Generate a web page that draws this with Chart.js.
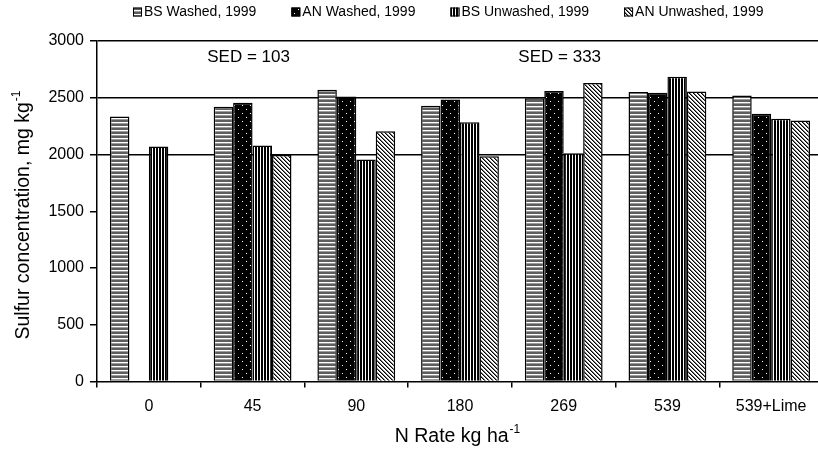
<!DOCTYPE html>
<html><head><meta charset="utf-8">
<script src="https://cdn.jsdelivr.net/npm/chart.js@4.4.0/dist/chart.umd.min.js"></script>
<style>
html,body{margin:0;padding:0;overflow:hidden;background:#fff;width:818px;height:451px}
#wrap{position:absolute;left:0;top:0;width:830px;height:451px}
</style>
</head><body><div id="wrap"><canvas id="c" width="830" height="451"></canvas></div>
<script>
// ---- data ----
const categories = ['0', '45', '90', '180', '269', '539', '539+Lime'];
const bsWashed   = [2335, 2420, 2570, 2430, 2495, 2550, 2520];
const anWashed   = [null, 2455, 2510, 2485, 2560, 2545, 2360];
const bsUnwashed = [2070, 2080, 1955, 2285, 2010, 2685, 2315];
const anUnwashed = [null, 1995, 2205, 1985, 2630, 2555, 2300];
const seriesLabels = ['BS Washed, 1999', 'AN Washed, 1999', 'BS Unwashed, 1999', 'AN Unwashed, 1999'];
const yTicks = [0, 500, 1000, 1500, 2000, 2500, 3000];
const gridFrom = 2000;
const sedNotes = [
  {text: 'SED = 103', category: '45', value: 2860},
  {text: 'SED = 333', category: '269', value: 2860}
];
const yTitle = 'Sulfur concentration, mg kg';
const xTitle = 'N Rate kg ha';
const titleSup = '-1';

const FONT = "'Liberation Sans', Arial, Helvetica, sans-serif";
const canvas = document.getElementById('c');
const ctx = canvas.getContext('2d');

function makePattern(w, h, draw) {
  const c = document.createElement('canvas');
  c.width = w; c.height = h;
  const g = c.getContext('2d');
  draw(g, w, h);
  return ctx.createPattern(c, 'repeat');
}
const patterns = [
  // horizontal grey stripes
  makePattern(4, 4, (g) => {
    g.fillStyle = '#5e5e5e'; g.fillRect(0, 0, 4, 4);
    g.fillStyle = '#ffffff'; g.fillRect(0, 2, 4, 1);
    g.fillStyle = '#9a9a9a'; g.fillRect(0, 3, 4, 1);
  }),
  // black with white dots
  makePattern(8, 8, (g) => {
    g.fillStyle = '#000'; g.fillRect(0, 0, 8, 8);
    g.fillStyle = '#fff'; g.fillRect(2, 1, 1, 1); g.fillRect(6, 5, 1, 1);
  }),
  // vertical black/white stripes
  makePattern(3, 3, (g) => {
    g.fillStyle = '#fff'; g.fillRect(0, 0, 3, 3);
    g.fillStyle = '#000'; g.fillRect(0, 0, 2, 3);
  }),
  // diagonal hatch "\"
  makePattern(4, 4, (g) => {
    g.fillStyle = '#fff'; g.fillRect(0, 0, 4, 4);
    g.fillStyle = '#000';
    for (let i = 0; i < 4; i++) g.fillRect(i, i, 1, 1);
    g.fillStyle = '#777';
    for (let i = 0; i < 4; i++) g.fillRect((i + 1) % 4, i, 1, 1);
  })
];

const seriesData = [bsWashed, anWashed, bsUnwashed, anUnwashed];

const textPlugin = {
  id: 'texts',
  afterDraw(chart) {
    const c = chart.ctx;
    const xs = chart.scales.x, ys = chart.scales.y, area = chart.chartArea;
    c.save();
    c.fillStyle = '#000';
    // SED notes
    c.font = '17px ' + FONT;
    c.textAlign = 'center';
    c.textBaseline = 'middle';
    sedNotes.forEach(n => {
      c.fillText(n.text, xs.getPixelForValue(categories.indexOf(n.category)) - 4, ys.getPixelForValue(n.value));
    });
    // legend
    c.font = '14px ' + FONT;
    c.textAlign = 'left';
    c.textBaseline = 'middle';
    let lx = 133;
    const ly = 12;
    chart.data.datasets.forEach((ds, i) => {
      c.fillStyle = ds.backgroundColor;
      c.fillRect(lx, ly - 4.5, 9, 9);
      c.strokeStyle = '#000'; c.lineWidth = 1;
      c.strokeRect(lx + 0.5, ly - 4, 8, 8);
      c.fillStyle = '#000';
      c.fillText(ds.label, lx + 11, ly);
      lx += 11 + c.measureText(ds.label).width + 35;
    });
    // x title
    c.textBaseline = 'alphabetic';
    c.font = '19.5px ' + FONT;
    const mw = c.measureText(xTitle).width;
    c.font = '12px ' + FONT;
    const sw = c.measureText(titleSup).width;
    let x0 = (area.left + area.right) / 2 - 3 - (mw + sw) / 2;
    c.font = '19.5px ' + FONT;
    c.fillText(xTitle, x0, 442);
    c.font = '12px ' + FONT;
    c.fillText(titleSup, x0 + mw + 1, 433);
    // y title
    c.translate(29, 215);
    c.rotate(-Math.PI / 2);
    c.font = '19.5px ' + FONT;
    const ymw = c.measureText(yTitle).width;
    const yx0 = -(ymw + sw + 1) / 2;
    c.fillText(yTitle, yx0, 0);
    c.font = '12px ' + FONT;
    c.fillText(titleSup, yx0 + ymw + 1, -9);
    c.restore();
  }
};

new Chart(ctx, {
  type: 'bar',
  data: {
    labels: categories,
    datasets: seriesLabels.map((lab, i) => ({
      label: lab,
      data: seriesData[i],
      backgroundColor: patterns[i],
      borderColor: '#000',
      borderWidth: 1.5
    }))
  },
  options: {
    responsive: false,
    animation: false,
    devicePixelRatio: 1,
    layout: {padding: {left: 0, right: 7, top: 41, bottom: 0}},
    datasets: {bar: {categoryPercentage: 0.75, barPercentage: 1.0}},
    plugins: {legend: {display: false}, tooltip: {enabled: false}},
    scales: {
      x: {
        grid: {offset: true, drawOnChartArea: false, drawTicks: true, tickLength: 6, color: '#000', lineWidth: 1.5},
        border: {display: true, color: '#000', width: 1.5},
        ticks: {color: '#000', font: {family: FONT, size: 16}, padding: 9, maxRotation: 0, autoSkip: false},
        afterFit(s) { s.height = 69.5; }
      },
      y: {
        min: 0, max: 3000,
        afterBuildTicks(s) { s.ticks = yTicks.map(v => ({value: v})); },
        grid: {
          color: (g) => (g.tick && g.tick.value >= gridFrom ? '#000' : 'rgba(0,0,0,0)'),
          tickColor: '#000',
          lineWidth: 1.5, tickLength: 7
        },
        border: {display: true, color: '#000', width: 1.5},
        ticks: {color: '#000', font: {family: FONT, size: 16}, padding: 6, callback: (v) => String(v)},
        afterFit(s) { s.width = 97; }
      }
    }
  },
  plugins: [textPlugin]
});
</script>
</body></html>
